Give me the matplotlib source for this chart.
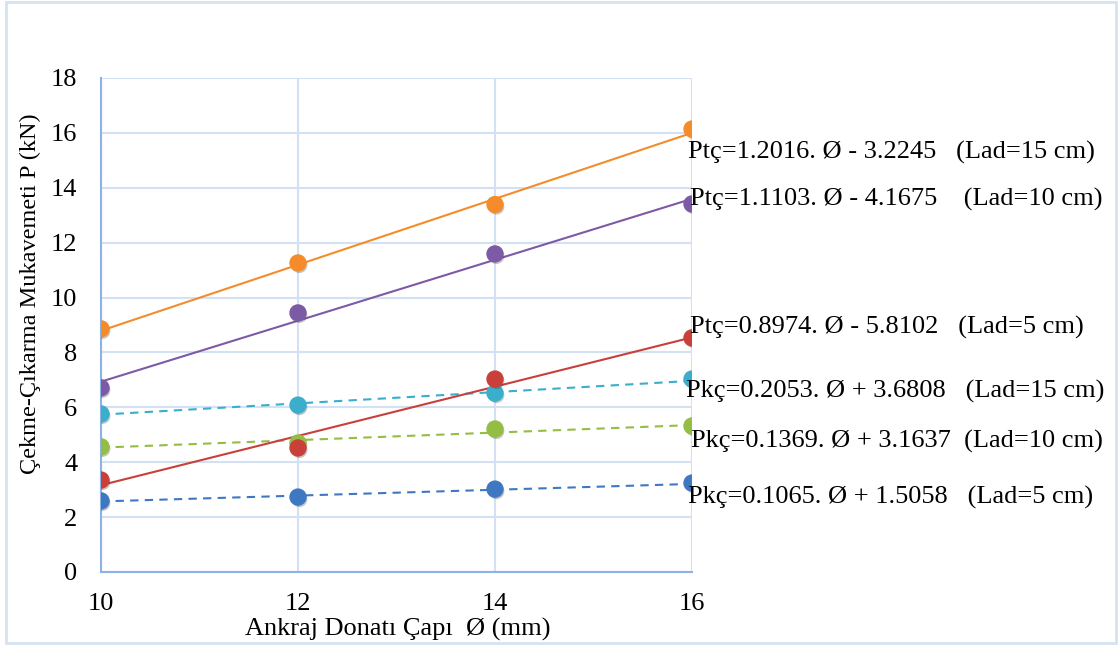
"""
Cekme-Cikarma mukavemeti vs ankraj donati capi, with linear trend lines
"""
import matplotlib
matplotlib.use("Agg")
import matplotlib.pyplot as plt
import matplotlib.patheffects as pe
import numpy as np

plt.rcParams['font.family'] = ['Liberation Serif', 'DejaVu Serif']

# data
cap = [10, 12, 14, 16]

pkc_5 = [2.59, 2.73, 3.02, 3.24]
pkc_10 = [4.56, 4.70, 5.21, 5.32]
pkc_15 = [5.76, 6.08, 6.52, 7.03]
ptc_5 = [3.35, 4.52, 7.03, 8.53]
ptc_10 = [6.71, 9.44, 11.59, 13.41]
ptc_15 = [8.86, 11.26, 13.39, 16.14]

# trend line coefficients (slope, intercept) from the equations
egim = [0.1065, 0.1369, 0.2053, 0.8974, 1.1103, 1.2016]
sabit = [1.5058, 3.1637, 3.6808, -5.8102, -4.1675, -3.2245]

etiketler = [
    "Pkç=0.1065. Ø + 1.5058   (Lad=5 cm)",
    "Pkç=0.1369. Ø + 3.1637  (Lad=10 cm)",
    "Pkç=0.2053. Ø + 3.6808   (Lad=15 cm)",
    "Ptç=0.8974. Ø - 5.8102   (Lad=5 cm)",
    "Ptç=1.1103. Ø - 4.1675    (Lad=10 cm)",
    "Ptç=1.2016. Ø - 3.2245   (Lad=15 cm)",
]

seriler = [pkc_5, pkc_10, pkc_15, ptc_5, ptc_10, ptc_15]
renkler = ["#3f78c2", "#93bd43", "#3aaecb", "#c9403a", "#7d5aa6", "#f58c2b"]
cizgi = ["--", "--", "--", "-", "-", "-"]

# label positions in figure pixels (x, y from top)
etiket_yer = [(688, 497), (691, 441), (686, 391), (690, 327), (690, 199), (688, 152)]

W, H = 1118, 646
fig = plt.figure(figsize=(W / 100, H / 100), dpi=100)
ax = fig.add_axes([101 / W, 1 - 572 / H, (692 - 101) / W, (572 - 78) / H])

golge = [pe.SimplePatchShadow(offset=(1, -1.5), shadow_rgbFace="#444444", alpha=0.3), pe.Normal()]

x_fit = np.array([10, 16])
for y, m, b, c, ls in zip(seriler, egim, sabit, renkler, cizgi):
    ax.plot(x_fit, m * x_fit + b, color=c, ls=ls, lw=1.5, dashes=(4, 3) if ls == "--" else (None, None), zorder=3)
    ax.plot(cap, y, ls="none", marker="o", ms=11.5, color=c, mec=c, zorder=4, path_effects=golge)

ax.set_xlim(10, 16)
ax.set_ylim(0, 18)
ax.set_xticks([10, 12, 14, 16])
ax.set_yticks(range(0, 19, 2))
ax.grid(True, color="#d2e1f4", lw=1.5)
ax.set_axisbelow(True)
for s in ["top", "right"]:
    ax.spines[s].set_visible(False)
ax.spines["left"].set_color("#8db3e2")
ax.spines["bottom"].set_color("#8db3e2")
ax.spines["left"].set_linewidth(1.5)
ax.spines["bottom"].set_linewidth(1.5)
ax.tick_params(length=0, labelsize=19)
ax.tick_params(axis="x", pad=15)
ax.tick_params(axis="y", pad=17)

fig.text(30 / W, 1 - 294 / H, "Çekme-Çıkarma Mukavemeti P (kN)", rotation=90,
         ha="center", va="center", fontsize=17.5)
fig.text(398 / W, 1 - 629 / H, "Ankraj Donatı Çapı  Ø (mm)", ha="center", va="center", fontsize=19)

for t, (px, py) in zip(etiketler, etiket_yer):
    fig.text(px / W, 1 - py / H, t, ha="left", va="center", fontsize=19)

# outer chart border
fig.patches.append(plt.Rectangle((6 / W, 3 / H), 1110 / W, 641 / H, transform=fig.transFigure,
                                 fill=False, ec="#d5e2f2", lw=2))

fig.savefig("out.png", dpi=100)
